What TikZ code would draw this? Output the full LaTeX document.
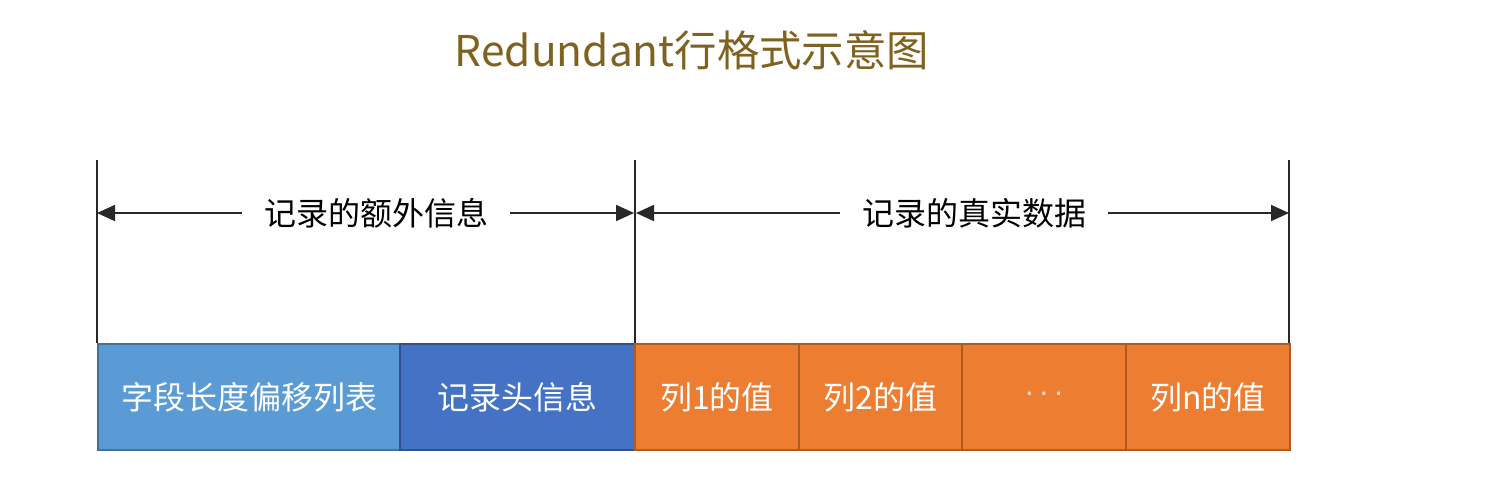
\documentclass[tikz,border=0pt]{standalone}
\usepackage{fontspec}
\setmainfont{Noto Sans CJK SC}
\newfontfamily\dotfont{Liberation Sans}
\usetikzlibrary{arrows.meta}
\definecolor{titlecol}{RGB}{128,98,32}
\definecolor{lblue}{RGB}{91,155,213}
\definecolor{lblueb}{RGB}{65,113,156}
\definecolor{dblue}{RGB}{68,114,196}
\definecolor{dblueb}{RGB}{47,82,143}
\definecolor{orng}{RGB}{237,125,49}
\definecolor{orngb}{RGB}{174,90,33}
\definecolor{linec}{RGB}{40,40,40}
\definecolor{dotc}{RGB}{250,215,190}
\tikzset{
  cell/.style={draw, line width=1pt, minimum height=53pt, inner sep=0pt, text=white, font=\fontsize{16}{18}\selectfont, anchor=north west},
  dimlbl/.style={inner xsep=11pt, inner ysep=2pt, font=\fontsize{16}{18}\selectfont, text=black},
  vline/.style={linec, line width=1pt},
  dimarrow/.style={linec, line width=0.9pt, -{Triangle[length=9pt,width=8pt]}}
}
\begin{document}
\begin{tikzpicture}[x=0.5pt,y=-0.5pt]
\useasboundingbox (0,0) rectangle (1498,494);
\fill[white] (0,0) rectangle (1498,494);
% title
\node[font=\fontsize{21.2}{25}\selectfont, text=titlecol] (title) at (692,50) {Redundant行格式示意图};
% cells
\node[cell, fill=lblue, draw=lblueb, minimum width=151pt] (c1) at (97,343) {字段长度偏移列表};
\node[cell, fill=dblue, draw=dblueb, minimum width=117.5pt] (c2) at (399,343) {记录头信息};
\node[cell, fill=orng, draw=orngb, minimum width=82pt] (c3) at (634,343) {列1的值};
\node[cell, fill=orng, draw=orngb, minimum width=81.5pt] (c4) at (798,343) {列2的值};
\node[cell, fill=orng, draw=orngb, minimum width=82pt, text=dotc] (c5) at (961,343) {\raisebox{-2pt}{\dotfont ·\hspace{2pt}·\hspace{2pt}·}};
\node[cell, fill=orng, draw=orngb, minimum width=82pt] (c6) at (1125,343) {列n的值};
% vertical extension lines
\coordinate (t1) at (97,160);
\coordinate (t2) at (635,160);
\coordinate (t3) at (1289,160);
\coordinate (b1) at (97,343);
\coordinate (b2) at (635,343);
\coordinate (b3) at (1289,343);
\draw[vline] (t1) -- (b1);
\draw[vline] (t2) -- (b2);
\draw[vline] (t3) -- (b3);
% dimension labels
\coordinate (a1) at (97,213);
\coordinate (a2l) at (634,213);
\coordinate (a2r) at (636,213);
\coordinate (a3) at (1289,213);
\node[dimlbl] (l1) at (376,213) {记录的额外信息};
\node[dimlbl] (l2) at (974,213) {记录的真实数据};
\draw[dimarrow] (l1.west) -- (a1);
\draw[dimarrow] (l1.east) -- (a2l);
\draw[dimarrow] (l2.west) -- (a2r);
\draw[dimarrow] (l2.east) -- (a3);
\end{tikzpicture}
\end{document}
